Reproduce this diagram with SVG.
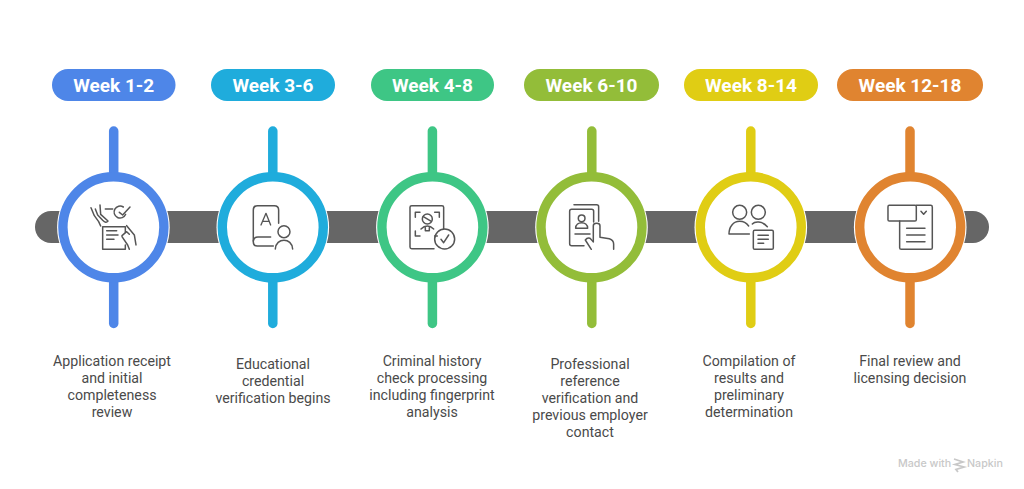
<svg xmlns="http://www.w3.org/2000/svg" width="1024" height="489" viewBox="0 0 1024 489">
<style>
.pill{font:700 19px Roboto,"Liberation Sans",sans-serif;fill:#fff;text-anchor:middle}
.lbl{font:400 14.200px Roboto,"Liberation Sans",sans-serif;fill:#4a4a4a;text-anchor:middle}
.ring{fill:#fff;stroke-width:9.400}
.halo{fill:#fff}
.ic{fill:none;stroke:#555;stroke-width:4.500;stroke-linecap:round;stroke-linejoin:round}
.stem{stroke-width:9.500;stroke-linecap:round}
</style>
<rect width="1024" height="489" fill="#fff"/>
<g id="connectors">
<path d="M51 211H973A16 16 0 0 1 973 243H51A16 16 0 0 1 51 211Z" fill="#666"/>
</g>
<g id="node1">
<rect x="52" y="69" width="123.500" height="32" rx="16" fill="#4e86e8"/>
<text class="pill" x="113.700" y="92">Week 1-2</text>
<circle class="halo" cx="113.400" cy="227.300" r="56.300"/>
<line class="stem" x1="113.700" y1="131" x2="113.700" y2="323.500" stroke="#4e86e8"/>
<circle class="ring" cx="113.400" cy="227.300" r="50.500" stroke="#4e86e8"/>
<g class="ic" transform="translate(86 195) scale(.3333)">
<path d="M15 38L25 62L38 80L44 93"/>
<path d="M42 30L44 58L66 78Q60 86 50 76L35 60L28 42"/>
<path d="M58 42H80"/>
<path d="M119 58A18 18 0 1 1 112 36"/>
<path d="M100 52L110 60L132 36"/>
<path d="M50 95V163H118V150M52 95H118V112"/>
<path d="M62 107H92M62 120H96M62 133H84"/>
<path d="M122 92L145 120L150 150"/>
<path d="M108 122L122 110L130 118M108 125L125 150L130 163"/>
</g>
<text class="lbl" x="112" y="366">Application receipt</text>
<text class="lbl" x="112" y="383">and initial</text>
<text class="lbl" x="112" y="400">completeness</text>
<text class="lbl" x="112" y="417">review</text>
</g>
<g id="node2">
<rect x="211" y="69" width="124" height="32" rx="16" fill="#1facdc"/>
<text class="pill" x="273" y="92">Week 3-6</text>
<circle class="halo" cx="272.800" cy="227.300" r="56.300"/>
<line class="stem" x1="272.800" y1="131" x2="272.800" y2="323.500" stroke="#1facdc"/>
<circle class="ring" cx="272.800" cy="227.300" r="50.500" stroke="#1facdc"/>
<g class="ic" transform="translate(30 160) scale(.3333)">
<path d="M730 258H682Q670 258 670 246V150Q670 137 683 137H733Q746 137 746 150V190"/>
<path d="M670 243Q672 231 684 231H722"/>
<path d="M693 195L708 160L722 195M698 184H717" stroke-width="4"/>
<circle cx="762" cy="215" r="18"/>
<path d="M736 267C738 232 786 232 788 267"/>
</g>
<text class="lbl" x="273" y="369">Educational</text>
<text class="lbl" x="273" y="386">credential</text>
<text class="lbl" x="273" y="403">verification begins</text>
</g>
<g id="node3">
<rect x="371" y="69" width="123" height="32" rx="16" fill="#3ec685"/>
<text class="pill" x="432.500" y="92">Week 4-8</text>
<circle class="halo" cx="432.400" cy="227.300" r="56.300"/>
<line class="stem" x1="432.400" y1="131" x2="432.400" y2="323.500" stroke="#3ec685"/>
<circle class="ring" cx="432.400" cy="227.300" r="50.500" stroke="#3ec685"/>
<g class="ic" transform="translate(360 160) scale(.3333)">
<path d="M222 266H155Q150 266 150 261V142Q150 137 155 137H246Q251 137 251 142V208"/>
<circle cx="254" cy="237" r="30"/>
<path d="M243 238L251 248L266 225"/>
<circle cx="202" cy="177" r="15"/>
<path d="M190 170L214 184"/>
<path d="M166 172V157H180M224 157H238V172M166 213V228H180M224 228H232"/>
<path d="M183 207C190 200 196 198 202 198C208 198 214 200 221 207M196 203V212H208V203"/>
</g>
<text class="lbl" x="432" y="366">Criminal history</text>
<text class="lbl" x="432" y="383">check processing</text>
<text class="lbl" x="432" y="400">including fingerprint</text>
<text class="lbl" x="432" y="417">analysis</text>
</g>
<g id="node4">
<rect x="524" y="69" width="135" height="32" rx="16" fill="#93bd39"/>
<text class="pill" x="591.500" y="92">Week 6-10</text>
<circle class="halo" cx="591.500" cy="227.300" r="56.300"/>
<line class="stem" x1="591.800" y1="131" x2="591.800" y2="323.500" stroke="#93bd39"/>
<circle class="ring" cx="591.500" cy="227.300" r="50.500" stroke="#93bd39"/>
<g class="ic" transform="translate(360 160) scale(.3333)">
<path d="M672 257H635Q629 257 629 251V154Q629 148 635 148H695Q701 148 701 154V186"/>
<path d="M642 134H710Q716 134 716 140V184"/>
<circle cx="665" cy="175" r="10"/>
<path d="M647 205C647 183 683 183 683 205Z"/>
<path d="M645 222H690"/>
<path d="M700 245V197Q700 190 710 190Q720 190 720 197V232L748 236Q761 240 761 252V268"/>
<path d="M700 245L690 235Q682 232 676 240L694 268"/>
</g>
<text class="lbl" x="590" y="369">Professional</text>
<text class="lbl" x="590" y="386">reference</text>
<text class="lbl" x="590" y="403">verification and</text>
<text class="lbl" x="590" y="420">previous employer</text>
<text class="lbl" x="590" y="437">contact</text>
</g>
<g id="node5">
<rect x="684" y="69" width="134" height="32" rx="16" fill="#e0cd14"/>
<text class="pill" x="751" y="92">Week 8-14</text>
<circle class="halo" cx="750.800" cy="227.300" r="56.300"/>
<line class="stem" x1="750.800" y1="131" x2="750.800" y2="323.500" stroke="#e0cd14"/>
<circle class="ring" cx="750.800" cy="227.300" r="50.500" stroke="#e0cd14"/>
<g class="ic" transform="translate(680 160) scale(.3333)">
<circle cx="179" cy="157" r="21"/>
<circle cx="235" cy="157" r="21"/>
<path d="M208 222H147C147 200 160 184 179 184C192 184 200 190 206 198"/>
<path d="M217 192C224 184 246 182 262 200"/>
<rect x="220" y="211" width="60" height="57" rx="4"/>
<path d="M234 226H265M234 238H265M234 250H251"/>
</g>
<text class="lbl" x="749" y="366">Compilation of</text>
<text class="lbl" x="749" y="383">results and</text>
<text class="lbl" x="749" y="400">preliminary</text>
<text class="lbl" x="749" y="417">determination</text>
</g>
<g id="node6">
<rect x="837" y="69" width="146" height="32" rx="16" fill="#e08430"/>
<text class="pill" x="910" y="92">Week 12-18</text>
<circle class="halo" cx="910.200" cy="227.300" r="56.300"/>
<line class="stem" x1="910" y1="131" x2="910" y2="323.500" stroke="#e08430"/>
<circle class="ring" cx="910.200" cy="227.300" r="50.500" stroke="#e08430"/>
<g class="ic" transform="translate(680 160) scale(.3333)">
<rect x="624" y="136" width="85" height="47" rx="4"/>
<path d="M709 136H752Q757 136 757 141V263Q757 268 752 268H664Q659 268 659 263V183"/>
<path d="M723 154L731 163L739 154M680 205H735M680 225H735M680 245H735"/>
</g>
<text class="lbl" x="910" y="366">Final review and</text>
<text class="lbl" x="910" y="383">licensing decision</text>
</g>
<g id="watermark">
<text x="898" y="467" style="font:500 10.700px Inter,Roboto,sans-serif;fill:#c8c8c8">Made with</text>
<path d="M954 459L963 462L955 464.500L964 467L956 469.500L958 472" fill="none" stroke="#c8c8c8" stroke-width="1.800"/>
<text x="967" y="467" style="font:500 10.700px Inter,Roboto,sans-serif;fill:#c8c8c8">Napkin</text>
</g>
</svg>
